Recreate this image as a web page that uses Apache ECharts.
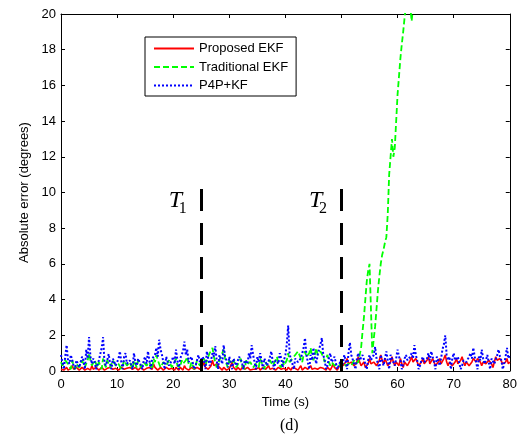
<!DOCTYPE html>
<html>
<head>
<meta charset="utf-8">
<script src="https://cdn.jsdelivr.net/npm/echarts@6/dist/echarts.min.js"></script>
<style>
html,body{margin:0;padding:0;background:#fff;}
#chart{width:520px;height:437px;}
</style>
</head>
<body>
<div id="chart"></div>
<script>
// sampling step of the time series (s)
const STEP = 0.25;

// Proposed EKF absolute error (degrees), t = 0, 0.25, ..., 80
const proposedEKF = [
  0.1,0.2,0.05,0.1,0.2,0.05,0.1,0.15,0.3,0.1,0.05,0.2,0.15,0.05,0.1,0.2,0.2,0.05,0.05,0.15,
  0.1,0.05,0.3,0.1,0.05,0.2,0.15,0.05,0.1,0.2,0.2,0.05,0.05,0.15,0.1,0.2,0.25,0.1,0.05,0.15,
  0.15,0.05,0.1,0.2,0.2,0.1,0.05,0.15,0.1,0.2,0.3,0.1,0.05,0.2,0.15,0.05,0.1,0.2,0.2,0.05,
  0.05,0.15,0.1,0.2,0.2,0.1,0.4,0.2,0.1,0.05,0.05,0.2,0.15,0.05,0.1,0.2,0.25,0.1,0.05,0.15,
  0.1,0.05,0.2,0.1,0.05,0.2,0.15,0.05,0.3,0.15,0.1,0.05,0.05,0.2,0.2,0.1,0.1,0.2,0.3,0.1,
  0.1,0.3,0.5,0.2,0.2,0.1,0.1,0.3,0.6,0.3,0.2,0.4,0.4,0.2,0.1,0.05,0.2,0.1,0.05,0.15,
  0.15,0.3,0.5,0.2,0.1,0.05,0.2,0.1,0.05,0.15,0.3,0.1,0.1,0.2,0.15,0.05,0.05,0.1,0.2,0.1,
  0.1,0.2,0.05,0.1,0.2,0.15,0.1,0.05,0.3,0.1,0.05,0.15,0.15,0.05,0.1,0.2,0.2,0.1,0.05,0.15,
  0.1,0.05,0.2,0.1,0.05,0.2,0.3,0.15,0.1,0.05,0.15,0.3,0.05,0.1,0.2,0.15,0.1,0.2,0.3,0.1,
  0.05,0.15,0.2,0.1,0.1,0.2,0.3,0.15,0.1,0.05,0.2,0.1,0.05,0.2,0.4,0.2,0.1,0.05,0.2,0.3,
  0.5,0.3,0.2,0.5,0.7,0.4,0.3,0.5,0.6,0.3,0.2,0.5,0.8,0.5,0.3,0.4,0.5,0.2,0.1,0.4,
  0.7,0.4,0.3,0.5,0.6,0.3,0.2,0.6,0.9,0.6,0.4,0.7,0.6,0.3,0.2,0.5,0.8,0.5,0.3,0.5,
  0.5,0.3,0.7,0.4,0.2,0.5,0.6,0.3,0.3,0.6,0.8,0.5,0.4,0.7,0.6,0.3,0.2,0.5,0.7,0.4,
  0.3,0.6,0.8,0.4,0.4,0.7,0.6,0.3,0.2,0.5,0.7,0.4,0.5,0.7,0.9,0.5,0.3,0.5,0.6,0.3,
  0.2,0.5,0.7,0.4,0.4,0.6,0.8,0.5,0.3,0.5,0.6,0.3,0.2,0.5,0.7,0.6,0.5,0.7,0.8,0.5,
  0.3,0.5,0.6,0.4,0.4,0.6,0.7,0.4,0.2,0.5,0.8,0.6,0.5,0.7,0.6,0.4,0.3,0.5,0.7,0.4,
  0.5
];

// Traditional EKF absolute error (degrees), t = 0 ... 63.75 (then off the chart)
const traditionalEKF = [
  0.5,0.3,0.2,0.6,0.7,0.4,0.3,0.1,0.6,0.3,0.1,0.4,0.4,0.2,0.2,0.6,0.5,0.2,0.3,0.6,
  1.0,0.6,0.3,0.2,0.6,0.4,0.2,0.5,0.4,0.1,0.7,0.4,0.2,0.6,0.5,0.2,0.3,0.6,0.6,0.3,
  0.2,0.4,0.5,0.1,0.3,0.6,0.7,0.3,0.2,0.5,0.4,0.1,0.6,0.4,0.2,0.6,0.5,0.2,0.3,0.5,
  0.6,0.3,0.2,0.5,0.4,0.1,0.7,0.5,0.9,0.6,0.5,0.2,0.2,0.5,0.6,0.3,0.3,0.6,0.5,0.2,
  0.2,0.5,0.7,0.3,0.4,0.2,0.6,0.4,0.3,0.6,0.8,0.4,0.2,0.5,0.5,0.1,0.3,0.6,0.6,0.3,
  0.3,0.5,0.7,0.3,0.4,0.8,1.0,1.1,1.3,0.8,0.5,0.2,0.3,0.6,0.8,1.0,1.2,0.7,0.4,0.2,
  0.6,0.4,0.3,0.6,0.5,0.2,0.2,0.5,0.7,0.3,0.4,0.1,0.6,0.4,0.3,0.5,0.5,0.2,0.2,0.4,
  0.4,0.2,0.7,0.5,0.3,0.1,0.5,0.3,0.2,0.6,0.6,0.3,0.3,0.6,0.8,0.4,0.4,0.2,0.6,0.3,
  0.3,0.6,1.0,0.5,0.4,0.7,0.6,0.9,0.9,1.1,1.2,0.7,0.5,0.9,1.1,0.8,0.7,1.0,1.3,0.8,
  0.6,0.9,1.3,0.9,0.8,1.1,1.2,0.8,0.5,0.7,0.9,0.5,0.3,0.5,0.6,0.3,0.2,0.4,0.5,0.3,
  0.3,0.5,0.6,0.3,0.2,0.4,0.4,0.3,0.3,0.6,0.4,0.3,0.5,0.9,1.3,2.2,3.0,4.0,5.0,5.6,
  6.0,3.5,1.0,1.8,2.5,3.5,4.5,5.3,6.0,6.5,6.8,7.2,7.5,8.8,11.0,12.0,13.0,12.0,12.5,14.0,
  15.5,16.5,17.5,18.3,19.0,19.8,20.5,21.0,21.5,20.5,19.6,20.3,21.0,22.0,23.0,24.0
];

// P4P+KF absolute error (degrees), t = 0, 0.25, ..., 80
const p4pKF = [
  0.9,0.5,0.1,0.8,1.45,0.6,0.4,0.9,0.8,0.3,0.1,0.6,0.7,0.2,0.3,0.8,0.6,0.1,1.2,0.7,
  1.9,0.8,0.4,0.7,0.5,0.1,0.2,0.6,0.7,1.3,1.9,0.5,0.3,0.6,0.95,0.4,0.1,0.7,0.6,0.3,
  0.3,0.7,1.1,0.5,0.1,0.8,1.0,0.4,0.3,0.6,0.7,0.1,1.0,0.5,0.3,0.7,0.6,0.3,0.1,0.6,
  0.8,0.4,1.1,0.6,0.1,0.7,0.6,0.9,1.3,0.8,1.75,1.2,0.9,0.5,0.1,0.8,0.7,0.3,0.2,0.6,
  0.8,0.4,1.2,0.6,0.1,0.7,0.6,1.1,1.65,0.9,1.2,0.5,0.4,0.8,0.7,0.1,0.3,0.6,0.9,0.5,
  0.4,0.8,0.6,0.1,1.1,0.7,0.3,0.6,1.0,0.8,1.4,0.6,0.1,0.9,0.9,0.4,1.45,0.8,0.6,0.2,
  0.8,0.5,0.1,0.7,0.7,0.3,0.4,0.8,0.9,0.5,0.1,0.6,0.6,0.4,1.0,0.7,1.45,0.9,0.5,0.1,
  0.8,0.5,1.0,0.6,0.1,0.7,0.6,0.3,0.4,0.8,1.1,0.5,0.1,0.6,0.7,0.4,1.0,0.7,0.2,0.6,
  0.9,1.5,2.55,1.0,0.6,0.4,0.1,0.7,0.8,0.5,0.4,0.7,1.0,1.3,1.85,0.9,0.5,0.1,0.9,0.6,
  1.3,0.8,0.4,0.9,1.2,1.5,1.85,0.9,0.6,0.1,0.3,0.7,1.0,0.5,0.4,0.8,0.7,0.1,0.3,0.5,
  0.6,0.4,0.9,0.6,0.1,1.0,1.6,0.9,0.8,0.4,0.1,0.7,1.0,0.6,0.5,0.9,0.8,0.4,0.1,0.6,
  0.9,0.6,0.5,0.9,1.35,0.7,0.6,0.1,0.9,0.6,0.3,0.7,1.1,0.6,0.1,0.9,0.8,0.5,0.3,0.7,
  1.2,0.8,0.6,0.1,0.4,0.7,0.9,0.6,0.5,0.8,1.0,0.7,1.45,0.9,0.6,0.1,0.3,0.6,0.8,0.5,
  0.4,0.7,1.0,0.6,1.1,0.8,0.5,0.1,0.8,0.6,0.3,0.7,1.2,1.5,2.0,0.9,0.6,0.8,0.1,0.7,
  1.0,0.6,0.5,0.8,0.8,0.1,0.3,0.6,0.7,0.5,0.4,0.8,1.0,0.7,1.3,0.8,0.5,0.1,0.8,0.6,
  1.2,0.7,0.4,0.6,0.9,0.5,0.1,0.7,0.7,0.4,0.5,0.9,1.2,0.8,0.6,0.1,0.4,0.8,1.3,0.7,
  0.9
];

// event markers
const markerNames = ['1', '2'];
const markerTimes = [25, 50];
const markerTop = 10.2;

// axes
const xTicks = { min: 0, max: 80, interval: 10 };
const yTicks = { min: 0, max: 20, interval: 2 };

const seriesNames = ['Proposed EKF', 'Traditional EKF', 'P4P+KF'];

function toPairs(arr) { return arr.map((v, i) => [i * STEP, v]); }

const SANS = '"Liberation Sans", Arial, sans-serif';
const SERIF = '"Liberation Serif", "Times New Roman", serif';

const chart = echarts.init(document.getElementById('chart'), null, { renderer: 'canvas' });

const markLines = markerTimes.map(t => [
  { coord: [t, markerTop] },
  { coord: [t, 0] }
]);
const markPoints = [];
markerTimes.forEach((t, i) => {
  markPoints.push({
    coord: [t - 4.6, 9.52],
    symbol: 'circle', symbolSize: 0,
    label: { show: true, position: 'inside', formatter: 'T',
      fontFamily: SERIF, fontStyle: 'italic', fontSize: 24, color: '#000' }
  });
  markPoints.push({
    coord: [t - 3.3, 9.07],
    symbol: 'circle', symbolSize: 0,
    label: { show: true, position: 'inside', formatter: markerNames[i],
      fontFamily: SERIF, fontSize: 16, color: '#000' }
  });
});

const axisLineStyle = { color: '#000', width: 1 };

const option = {
  animation: false,
  backgroundColor: '#fff',
  grid: { left: 61, right: 8, top: 14, bottom: 66, containLabel: false },
  legend: {
    data: seriesNames,
    orient: 'vertical',
    left: 145, top: 37,
    padding: [5, 8, 4, 8],
    itemGap: 5.5,
    itemWidth: 40, itemHeight: 14,
    borderColor: '#000', borderWidth: 1,
    backgroundColor: '#fff',
    itemStyle: { color: 'rgba(0,0,0,0)', borderColor: 'rgba(0,0,0,0)', borderWidth: 0, opacity: 0 },
    textStyle: { fontFamily: SANS, fontSize: 13, color: '#000' },
    selectedMode: false
  },
  xAxis: [
    {
      type: 'value', min: xTicks.min, max: xTicks.max, interval: xTicks.interval,
      position: 'bottom',
      name: 'Time (s)', nameLocation: 'middle', nameGap: 24,
      nameTextStyle: { fontFamily: SANS, fontSize: 13, color: '#000' },
      axisLine: { onZero: false, lineStyle: axisLineStyle },
      axisTick: { inside: true, length: 4, lineStyle: axisLineStyle },
      axisLabel: { fontFamily: SANS, fontSize: 13, color: '#000', margin: 7 },
      splitLine: { show: false }
    },
    {
      type: 'value', min: xTicks.min, max: xTicks.max, interval: xTicks.interval,
      position: 'top',
      axisLine: { onZero: false, lineStyle: axisLineStyle },
      axisTick: { inside: true, length: 4, lineStyle: axisLineStyle },
      axisLabel: { show: false },
      splitLine: { show: false }
    }
  ],
  yAxis: [
    {
      type: 'value', min: yTicks.min, max: yTicks.max, interval: yTicks.interval,
      position: 'left',
      name: 'Absolute error (degrees)', nameLocation: 'middle', nameGap: 29,
      nameTextStyle: { fontFamily: SANS, fontSize: 13, color: '#000' },
      axisLine: { show: true, onZero: false, lineStyle: axisLineStyle },
      axisTick: { show: true, inside: true, length: 4, lineStyle: axisLineStyle },
      axisLabel: { fontFamily: SANS, fontSize: 13, color: '#000', margin: 5 },
      splitLine: { show: false }
    },
    {
      type: 'value', min: yTicks.min, max: yTicks.max, interval: yTicks.interval,
      position: 'right',
      axisLine: { show: true, onZero: false, lineStyle: axisLineStyle },
      axisTick: { show: true, inside: true, length: 4, lineStyle: axisLineStyle },
      axisLabel: { show: false },
      splitLine: { show: false }
    }
  ],
  series: [
    {
      name: seriesNames[0], type: 'line', data: toPairs(proposedEKF),
      xAxisIndex: 0, yAxisIndex: 0,
      symbol: 'none', clip: true,
      itemStyle: { color: '#ff0000' },
      lineStyle: { color: '#ff0000', width: 1.6, type: 'solid' }
    },
    {
      name: seriesNames[1], type: 'line', data: toPairs(traditionalEKF),
      xAxisIndex: 0, yAxisIndex: 0,
      symbol: 'none', clip: true,
      itemStyle: { color: '#00ff00' },
      lineStyle: { color: '#00ff00', width: 1.8, type: [6, 3] }
    },
    {
      name: seriesNames[2], type: 'line', data: toPairs(p4pKF),
      xAxisIndex: 0, yAxisIndex: 0,
      symbol: 'none', clip: true,
      itemStyle: { color: '#0000ff' },
      lineStyle: { color: '#0000ff', width: 2, type: [2, 2] },
      markLine: {
        silent: true, symbol: ['none', 'none'], animation: false,
        label: { show: false },
        lineStyle: { color: '#000', width: 3, type: [22, 12] },
        emphasis: { disabled: true },
        data: markLines
      },
      markPoint: {
        silent: true, animation: false,
        data: markPoints
      }
    }
  ],
  graphic: [
    {
      type: 'text', left: 280, top: 418,
      style: { text: '(d)', font: '16px ' + SERIF, fill: '#000' }
    }
  ]
};

chart.setOption(option);
</script>
</body>
</html>
